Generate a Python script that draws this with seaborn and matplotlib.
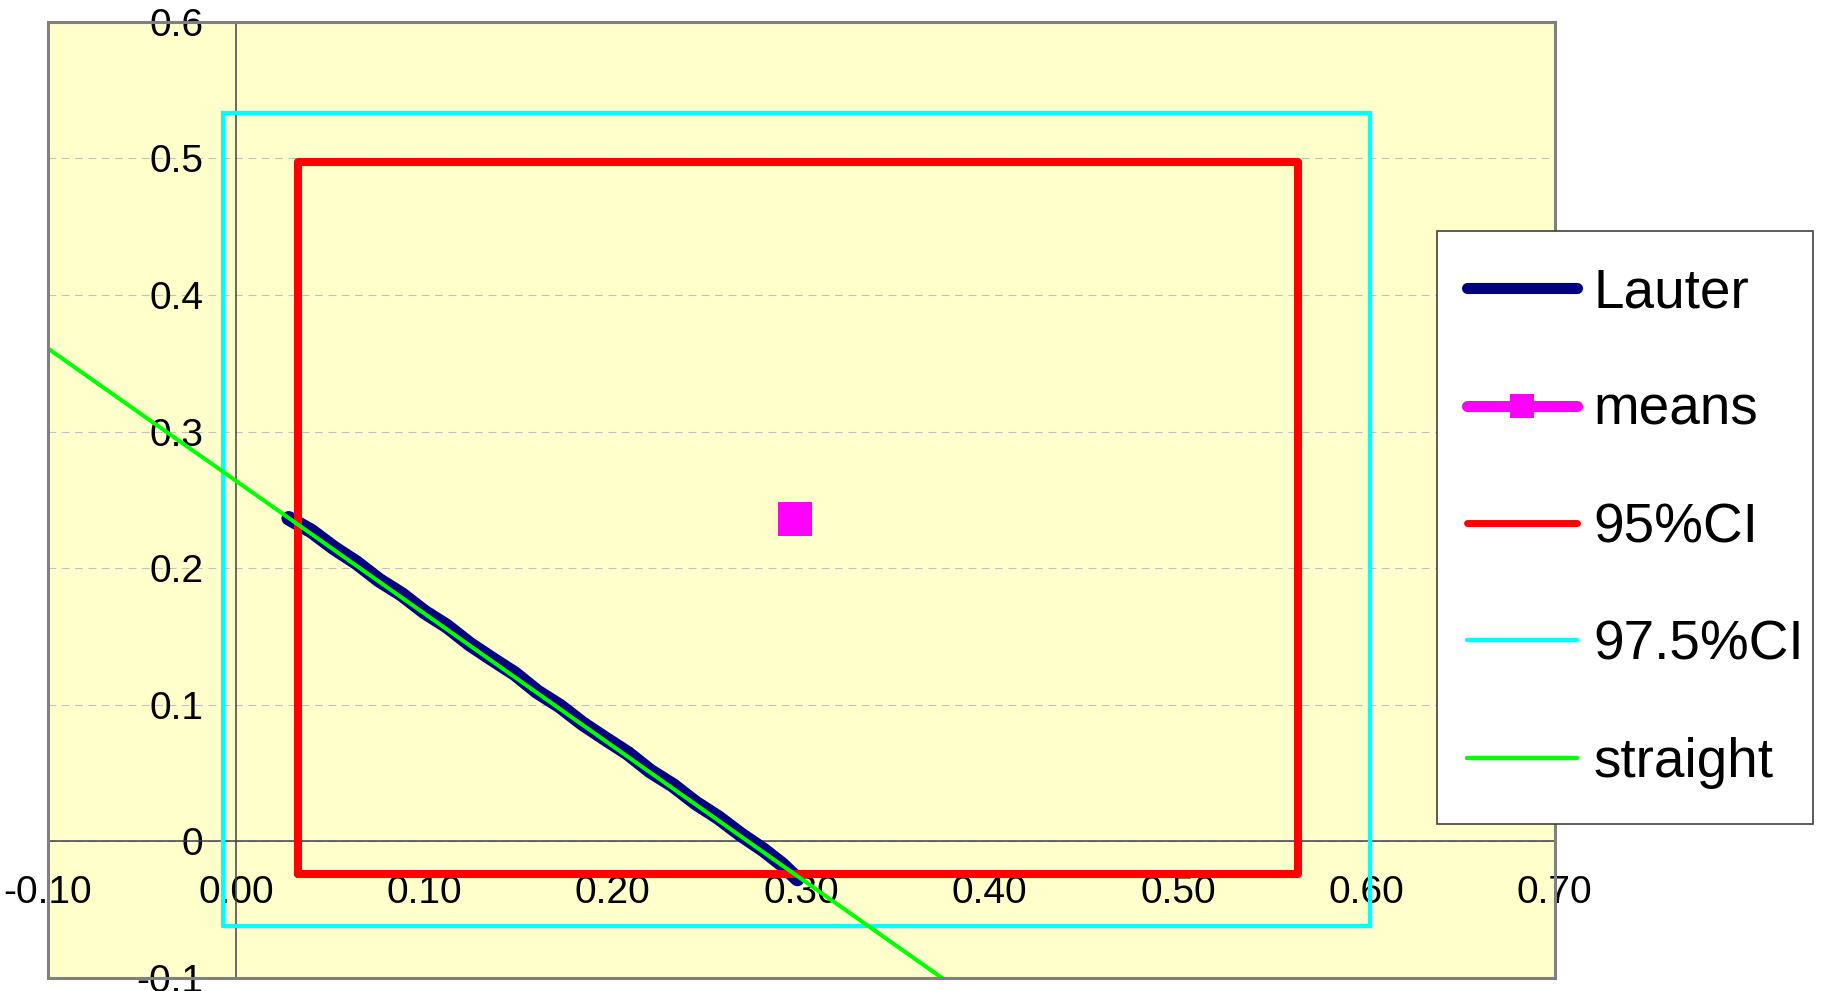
import matplotlib
matplotlib.use("Agg")
import matplotlib.pyplot as plt
from matplotlib.lines import Line2D
from matplotlib.patches import Rectangle
from matplotlib.font_manager import FontProperties
import pandas as pd
import seaborn as sns

# Lauter curve (x, y)
lauter_x = [0.028, 0.040, 0.052, 0.064, 0.076, 0.088, 0.100, 0.112, 0.124, 0.136,
            0.148, 0.160, 0.172, 0.184, 0.196, 0.208, 0.220, 0.232, 0.244, 0.256,
            0.268, 0.280, 0.290, 0.298]
lauter_y = [0.2365, 0.2272, 0.2148, 0.2040, 0.1912, 0.1808, 0.1680, 0.1575, 0.1445, 0.1335,
            0.1228, 0.1095, 0.0990, 0.0862, 0.0752, 0.0645, 0.0514, 0.0410, 0.0282, 0.0175,
            0.0050, -0.0062, -0.0170, -0.0275]

# Mean point
means_x = [0.297]
means_y = [0.236]

# Confidence boxes: [low, high] in x and y
ci95_x = [0.033, 0.564]
ci95_y = [-0.024, 0.497]
ci975_x = [-0.007, 0.602]
ci975_y = [-0.062, 0.533]

# Straight reference line end points
straight_x = [-0.10, 0.38]
straight_y = [0.361, -0.105]

x_ticks = [-0.1, 0.0, 0.1, 0.2, 0.3, 0.4, 0.5, 0.6, 0.7]
x_tick_labels = ["-0.10", "0.00", "0.10", "0.20", "0.30", "0.40", "0.50", "0.60", "0.70"]
y_ticks = [-0.1, 0.0, 0.1, 0.2, 0.3, 0.4, 0.5, 0.6]
y_tick_labels = ["-0.1", "0", "0.1", "0.2", "0.3", "0.4", "0.5", "0.6"]

series_labels = ["Lauter", "means", "95%CI", "97.5%CI", "straight"]
colors = {"Lauter": "#000080", "means": "#FF00FF", "95%CI": "#FF0000",
          "97.5%CI": "#00FFFF", "straight": "#00FF00"}


def box_frame(xs, ys):
    x0, x1 = xs
    y0, y1 = ys
    return pd.DataFrame({"x": [x0, x1, x1, x0, x0], "y": [y0, y0, y1, y1, y0]})


sns.set_style("white")
plt.rcParams["font.family"] = ["Liberation Sans", "DejaVu Sans"]
plt.rcParams["text.color"] = "black"

fig = plt.figure(figsize=(18.22, 9.91), dpi=100)
ax = fig.add_axes([0.0261, 0.0131, 0.8272, 0.9650])
ax.set_facecolor("#FFFFCC")

lauter_df = pd.DataFrame({"x": lauter_x, "y": lauter_y})
means_df = pd.DataFrame({"x": means_x, "y": means_y})
straight_df = pd.DataFrame({"x": straight_x, "y": straight_y})

sns.lineplot(data=lauter_df, x="x", y="y", sort=False, estimator=None, ax=ax,
             color=colors["Lauter"], lw=10.5, solid_capstyle="round",
             solid_joinstyle="round", zorder=3, legend=False)
sns.scatterplot(data=means_df, x="x", y="y", ax=ax, marker="s", s=600,
                color=colors["means"], linewidth=0, zorder=4, legend=False)
sns.lineplot(data=box_frame(ci95_x, ci95_y), x="x", y="y", sort=False, estimator=None,
             ax=ax, color=colors["95%CI"], lw=5.8, solid_joinstyle="round",
             zorder=5, legend=False)
sns.lineplot(data=box_frame(ci975_x, ci975_y), x="x", y="y", sort=False, estimator=None,
             ax=ax, color=colors["97.5%CI"], lw=3.1, solid_joinstyle="miter",
             zorder=6, legend=False)
sns.lineplot(data=straight_df, x="x", y="y", sort=False, estimator=None, ax=ax,
             color=colors["straight"], lw=2.9, zorder=7, legend=False)

ax.set_xlim(-0.1, 0.7)
ax.set_ylim(-0.1, 0.6)
ax.set_xlabel("")
ax.set_ylabel("")

# Axes cross at the origin
for side in ("top", "right"):
    ax.spines[side].set_visible(False)
ax.spines["left"].set_position(("data", 0))
ax.spines["bottom"].set_position(("data", 0))
for side in ("left", "bottom"):
    ax.spines[side].set_color("#404040")
    ax.spines[side].set_linewidth(1.1)
    ax.spines[side].set_zorder(2.6)

ax.set_xticks(x_ticks)
ax.set_xticklabels(x_tick_labels)
ax.set_yticks(y_ticks)
ax.set_yticklabels(y_tick_labels)
ax.tick_params(axis="x", direction="out", length=8, width=1.1, color="#404040",
               pad=16, labelsize=28, labelcolor="black")
ax.tick_params(axis="y", direction="out", length=8.6, width=1.1, color="#404040",
               pad=15, labelsize=28, labelcolor="black")

ax.set_axisbelow(True)
ax.yaxis.grid(True, color="#C0C0C0", linestyle=(0, (7, 5)), linewidth=0.8)
ax.xaxis.grid(False)

# Plot-area border
ax.add_patch(Rectangle((0, 0), 1, 1, transform=ax.transAxes, fill=False,
                       edgecolor="#808080", lw=2.2, clip_on=False, zorder=10))

# Legend box
fig.patches.append(Rectangle((0.7887, 0.1685), 0.2064, 0.5984,
                             transform=fig.transFigure, facecolor="white",
                             edgecolor="#404040", lw=1.2, zorder=1))

handles = [
    Line2D([], [], color=colors["Lauter"], lw=8, solid_capstyle="round"),
    Line2D([], [], color=colors["means"], lw=8, solid_capstyle="round",
           marker="s", markersize=17, markeredgewidth=0),
    Line2D([], [], color=colors["95%CI"], lw=5, solid_capstyle="round"),
    Line2D([], [], color=colors["97.5%CI"], lw=3.2, solid_capstyle="round"),
    Line2D([], [], color=colors["straight"], lw=3.2, solid_capstyle="round"),
]
leg = fig.legend(handles, series_labels, loc="center left",
                 bbox_to_anchor=(0.8052, 0.467), bbox_transform=fig.transFigure,
                 prop=FontProperties(family="Liberation Sans", size=39.5),
                 frameon=False, borderpad=0, labelspacing=1.19,
                 handlelength=2.0, handletextpad=0.3, borderaxespad=0)
for txt in leg.get_texts():
    txt.set_color("black")
leg.set_zorder(2)

fig.savefig("out.png", dpi=100, facecolor="white")
